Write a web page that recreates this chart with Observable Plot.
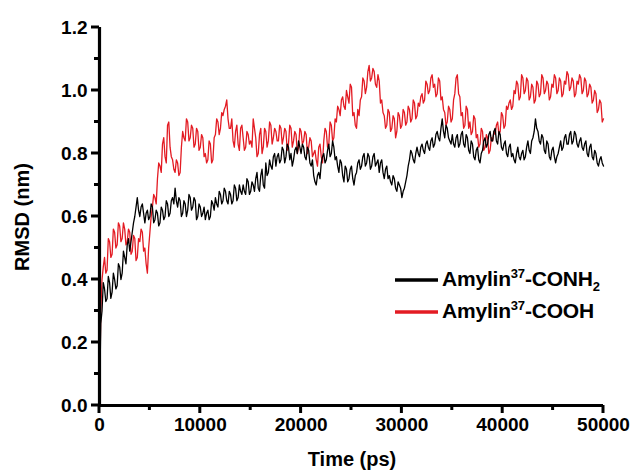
<!DOCTYPE html>
<html>
<head>
<meta charset="utf-8">
<script src="https://cdn.jsdelivr.net/npm/d3@7"></script>
<script src="https://cdn.jsdelivr.net/npm/@observablehq/plot@0.6"></script>
<style>
  html, body { margin: 0; padding: 0; background: #fff; }
  #chart { width: 635px; height: 475px; }
</style>
</head>
<body>
<div id="chart"></div>
<script>
// Sampling grid (ps)
const times = d3.range(0, 50001, 250);

// RMSD (nm), Amylin37-CONH2 (black), at times
const conh2 = [
  0.00,0.30,0.37,0.34,0.39,0.36,0.40,0.38,0.44,0.42,
  0.47,0.51,0.49,0.55,0.60,0.66,0.60,0.64,0.58,0.62,
  0.60,0.63,0.59,0.61,0.58,0.62,0.60,0.64,0.61,0.66,
  0.69,0.63,0.65,0.61,0.64,0.62,0.66,0.63,0.65,0.60,
  0.63,0.61,0.59,0.62,0.60,0.64,0.66,0.63,0.67,0.65,
  0.68,0.64,0.67,0.65,0.69,0.66,0.68,0.70,0.67,0.71,
  0.68,0.70,0.72,0.69,0.73,0.70,0.77,0.74,0.76,0.79,
  0.76,0.80,0.78,0.81,0.79,0.82,0.80,0.78,0.82,0.84,
  0.80,0.82,0.78,0.81,0.76,0.73,0.70,0.74,0.77,0.80,
  0.78,0.83,0.80,0.82,0.79,0.74,0.77,0.71,0.75,0.72,
  0.76,0.70,0.74,0.78,0.76,0.80,0.77,0.79,0.76,0.80,
  0.77,0.74,0.78,0.72,0.76,0.73,0.70,0.72,0.68,0.70,
  0.66,0.69,0.73,0.78,0.80,0.77,0.82,0.79,0.83,0.80,
  0.84,0.81,0.85,0.83,0.87,0.84,0.91,0.85,0.88,0.84,
  0.86,0.82,0.86,0.83,0.87,0.82,0.85,0.80,0.83,0.78,
  0.82,0.77,0.81,0.85,0.83,0.87,0.84,0.88,0.83,0.86,
  0.81,0.84,0.79,0.83,0.80,0.77,0.82,0.78,0.81,0.79,
  0.84,0.80,0.85,0.91,0.87,0.83,0.85,0.80,0.83,0.78,
  0.82,0.77,0.80,0.84,0.82,0.86,0.83,0.87,0.84,0.86,
  0.82,0.85,0.81,0.84,0.79,0.83,0.78,0.80,0.76,0.79,
  0.76
];
// RMSD (nm), Amylin37-CONH2, read half-way between samples
const conh2Mid = [
  0.26,0.39,0.33,0.41,0.34,0.42,0.37,0.45,0.40,0.49,
  0.45,0.53,0.52,0.58,0.63,0.62,0.63,0.61,0.61,0.59,
  0.64,0.58,0.62,0.57,0.63,0.59,0.65,0.60,0.65,0.64,
  0.65,0.66,0.60,0.65,0.60,0.67,0.62,0.66,0.59,0.64,
  0.60,0.63,0.61,0.59,0.65,0.62,0.64,0.68,0.64,0.69,
  0.65,0.68,0.64,0.70,0.65,0.70,0.67,0.68,0.72,0.67,
  0.71,0.68,0.74,0.68,0.75,0.69,0.73,0.78,0.75,0.80,
  0.79,0.77,0.82,0.77,0.83,0.78,0.76,0.81,0.80,0.82,
  0.83,0.79,0.82,0.77,0.78,0.71,0.73,0.72,0.79,0.77,
  0.81,0.79,0.84,0.78,0.76,0.78,0.73,0.76,0.71,0.75,
  0.72,0.73,0.77,0.75,0.79,0.76,0.80,0.75,0.79,0.76,
  0.78,0.77,0.74,0.75,0.72,0.71,0.73,0.69,0.71,0.69,
  0.68,0.71,0.76,0.81,0.78,0.80,0.80,0.82,0.81,0.83,
  0.82,0.84,0.82,0.86,0.85,0.88,0.87,0.89,0.85,0.83,
  0.83,0.85,0.82,0.86,0.83,0.86,0.81,0.84,0.79,0.81,
  0.78,0.80,0.84,0.82,0.86,0.84,0.87,0.84,0.87,0.82,
  0.83,0.80,0.82,0.79,0.78,0.80,0.79,0.80,0.78,0.82,
  0.81,0.84,0.87,0.88,0.84,0.86,0.81,0.84,0.79,0.81,
  0.79,0.79,0.82,0.81,0.85,0.83,0.86,0.83,0.87,0.83,
  0.84,0.82,0.83,0.80,0.82,0.79,0.81,0.77,0.78,0.77
];

// RMSD (nm), Amylin37-COOH (red), at times
const cooh = [
  0.00,0.40,0.47,0.43,0.52,0.48,0.55,0.51,0.57,0.53,
  0.56,0.52,0.55,0.49,0.53,0.47,0.52,0.55,0.50,0.42,
  0.55,0.63,0.66,0.72,0.76,0.83,0.79,0.89,0.82,0.78,
  0.74,0.77,0.74,0.87,0.84,0.90,0.85,0.88,0.83,0.87,
  0.82,0.85,0.80,0.78,0.83,0.78,0.86,0.90,0.88,0.92,
  0.95,0.91,0.88,0.84,0.87,0.83,0.88,0.85,0.82,0.86,
  0.84,0.91,0.85,0.80,0.88,0.82,0.87,0.84,0.89,0.85,
  0.87,0.84,0.88,0.85,0.87,0.83,0.88,0.84,0.86,0.82,
  0.87,0.84,0.86,0.82,0.84,0.80,0.78,0.82,0.79,0.84,
  0.87,0.83,0.89,0.85,0.90,0.94,0.97,0.95,1.00,0.96,
  1.01,0.93,0.88,0.92,0.98,1.03,1.01,1.08,1.04,1.06,
  1.01,1.03,0.97,0.92,0.89,0.93,0.88,0.91,0.87,0.92,
  0.89,0.93,0.90,0.94,0.91,0.96,0.92,0.95,0.99,0.97,
  1.02,1.00,1.05,1.02,0.99,1.03,0.98,0.93,0.90,0.94,
  0.91,0.99,1.05,0.98,0.93,0.89,0.94,0.90,0.87,0.91,
  0.86,0.83,0.87,0.82,0.85,0.81,0.84,0.86,0.90,0.87,
  0.92,0.89,0.94,0.97,0.95,0.99,1.02,0.98,1.04,1.00,
  1.03,0.98,1.01,0.97,1.02,0.99,1.04,1.00,1.02,0.98,
  1.01,1.04,1.00,1.03,0.99,1.02,1.05,1.01,1.03,0.99,
  1.02,1.04,1.00,1.03,0.99,1.01,0.97,0.99,0.94,0.96,
  0.91
];
// RMSD (nm), Amylin37-COOH, read half-way between samples
const coohMid = [
  0.30,0.44,0.42,0.53,0.47,0.56,0.50,0.58,0.52,0.58,
  0.51,0.56,0.48,0.54,0.46,0.53,0.56,0.49,0.45,0.50,
  0.60,0.67,0.64,0.77,0.74,0.85,0.77,0.90,0.79,0.75,
  0.78,0.73,0.82,0.85,0.91,0.84,0.89,0.82,0.88,0.81,
  0.86,0.79,0.77,0.84,0.77,0.85,0.91,0.86,0.93,0.94,
  0.97,0.88,0.91,0.82,0.89,0.81,0.89,0.81,0.87,0.83,
  0.82,0.88,0.79,0.86,0.80,0.88,0.82,0.90,0.83,0.88,
  0.84,0.89,0.83,0.88,0.81,0.89,0.82,0.87,0.80,0.88,
  0.83,0.87,0.80,0.85,0.79,0.81,0.76,0.83,0.77,0.88,
  0.82,0.90,0.84,0.91,0.95,0.92,0.98,0.94,0.98,1.02,
  0.92,0.89,0.94,0.97,1.04,0.99,1.06,1.03,1.07,1.02,
  1.05,0.96,0.93,0.88,0.94,0.87,0.92,0.85,0.93,0.88,
  0.94,0.89,0.95,0.90,0.97,0.91,0.96,0.98,0.96,1.03,
  0.99,1.04,1.01,0.98,1.04,0.97,0.94,0.89,0.95,0.90,
  0.97,1.04,0.99,0.92,0.88,0.95,0.88,0.86,0.92,0.85,
  0.82,0.88,0.81,0.86,0.80,0.85,0.87,0.89,0.86,0.93,
  0.88,0.95,0.96,0.94,1.00,1.03,0.97,1.05,0.99,1.04,
  0.97,1.02,0.96,1.03,0.98,1.05,0.99,1.03,0.97,1.02,
  1.05,0.99,1.04,0.98,1.03,1.06,1.00,1.04,0.98,1.03,
  1.05,0.99,1.04,0.98,1.02,0.96,1.00,0.93,0.97,0.90
];

const xTicks = [0, 10000, 20000, 30000, 40000, 50000];
const xMinor = [5000, 15000, 25000, 35000, 45000];
const yTicks = [0, 0.2, 0.4, 0.6, 0.8, 1.0, 1.2];
const yMinor = [0.1, 0.3, 0.5, 0.7, 0.9, 1.1];

const colors = ["#000000", "#e31b23"];

function series(main, mid) {
  const out = [];
  times.forEach((t, i) => {
    out.push({t, v: main[i]});
    if (i < mid.length) out.push({t: (t + times[i + 1]) / 2, v: mid[i]});
  });
  return out;
}
const blackData = series(conh2, conh2Mid);
const redData = series(cooh, coohMid);

const W = 635, H = 475;
const MAJOR = 8, MINOR = 5;
const plot = Plot.plot({
  width: W,
  height: H,
  marginLeft: 99,
  marginRight: 32,
  marginTop: 27,
  marginBottom: 70,
  style: {fontFamily: "'Liberation Sans', Arial, sans-serif", fontSize: "19px", fontWeight: "bold", color: "#000", background: "#fff"},
  x: {domain: [0, 50000], label: null},
  y: {domain: [0, 1.2], label: null},
  marks: [
    Plot.line(redData, {x: "t", y: "v", stroke: colors[1], strokeWidth: 1.3}),
    Plot.line(blackData, {x: "t", y: "v", stroke: colors[0], strokeWidth: 1.3}),
    Plot.ruleX([0], {strokeWidth: 3.2}),
    Plot.ruleY([0], {strokeWidth: 3.2}),
    Plot.axisX({ticks: xTicks, tickSize: 0, tickPadding: MAJOR + 4, tickFormat: d => String(d), label: null}),
    Plot.axisY({ticks: yTicks, tickSize: 0, tickPadding: MAJOR + 4, tickFormat: d3.format(".1f"), label: null})
  ]
});
document.getElementById("chart").appendChild(plot);

const svg = d3.select(plot);
const xs = plot.scale("x"), ys = plot.scale("y");
const x0 = xs.apply(0), y0 = ys.apply(0);
// Thick axis ticks, placed with the plot's own scales
const tickG = svg.append("g").attr("stroke", "#000").attr("stroke-width", 3);
[[xTicks, MAJOR], [xMinor, MINOR]].forEach(([vals, len]) => {
  vals.forEach(v => tickG.append("line")
    .attr("x1", xs.apply(v)).attr("x2", xs.apply(v))
    .attr("y1", y0).attr("y2", y0 + len));
});
[[yTicks, MAJOR], [yMinor, MINOR]].forEach(([vals, len]) => {
  vals.forEach(v => tickG.append("line")
    .attr("y1", ys.apply(v)).attr("y2", ys.apply(v))
    .attr("x1", x0).attr("x2", x0 - len));
});

// Axis titles
svg.append("text")
  .attr("x", 352).attr("y", 466)
  .attr("text-anchor", "middle")
  .attr("font-size", 20).attr("font-weight", "bold")
  .attr("fill", "#000")
  .text("Time (ps)");
svg.append("text")
  .attr("transform", "translate(29,217) rotate(-90)")
  .attr("text-anchor", "middle")
  .attr("font-size", 20).attr("font-weight", "bold")
  .attr("fill", "#000")
  .text("RMSD (nm)");

// Legend
const legend = svg.append("g");
const legendRows = [
  {y: 280, color: colors[0], base: "Amylin", sup: "37", rest: "-CONH", sub: "2"},
  {y: 312, color: colors[1], base: "Amylin", sup: "37", rest: "-COOH", sub: ""}
];
legendRows.forEach(r => {
  legend.append("line")
    .attr("x1", 395).attr("x2", 438)
    .attr("y1", r.y).attr("y2", r.y)
    .attr("stroke", r.color).attr("stroke-width", 3.5);
  const t = legend.append("text")
    .attr("x", 442).attr("y", r.y + 6)
    .attr("text-anchor", "start")
    .attr("font-size", 21).attr("font-weight", "bold")
    .attr("letter-spacing", "-0.2px")
    .attr("fill", "#000");
  t.append("tspan").text(r.base);
  t.append("tspan").attr("font-size", 13).attr("dy", -8).text(r.sup);
  t.append("tspan").attr("dy", 8).text(r.rest);
  if (r.sub) t.append("tspan").attr("font-size", 13).attr("dy", 5).text(r.sub);
});
</script>
</body>
</html>
